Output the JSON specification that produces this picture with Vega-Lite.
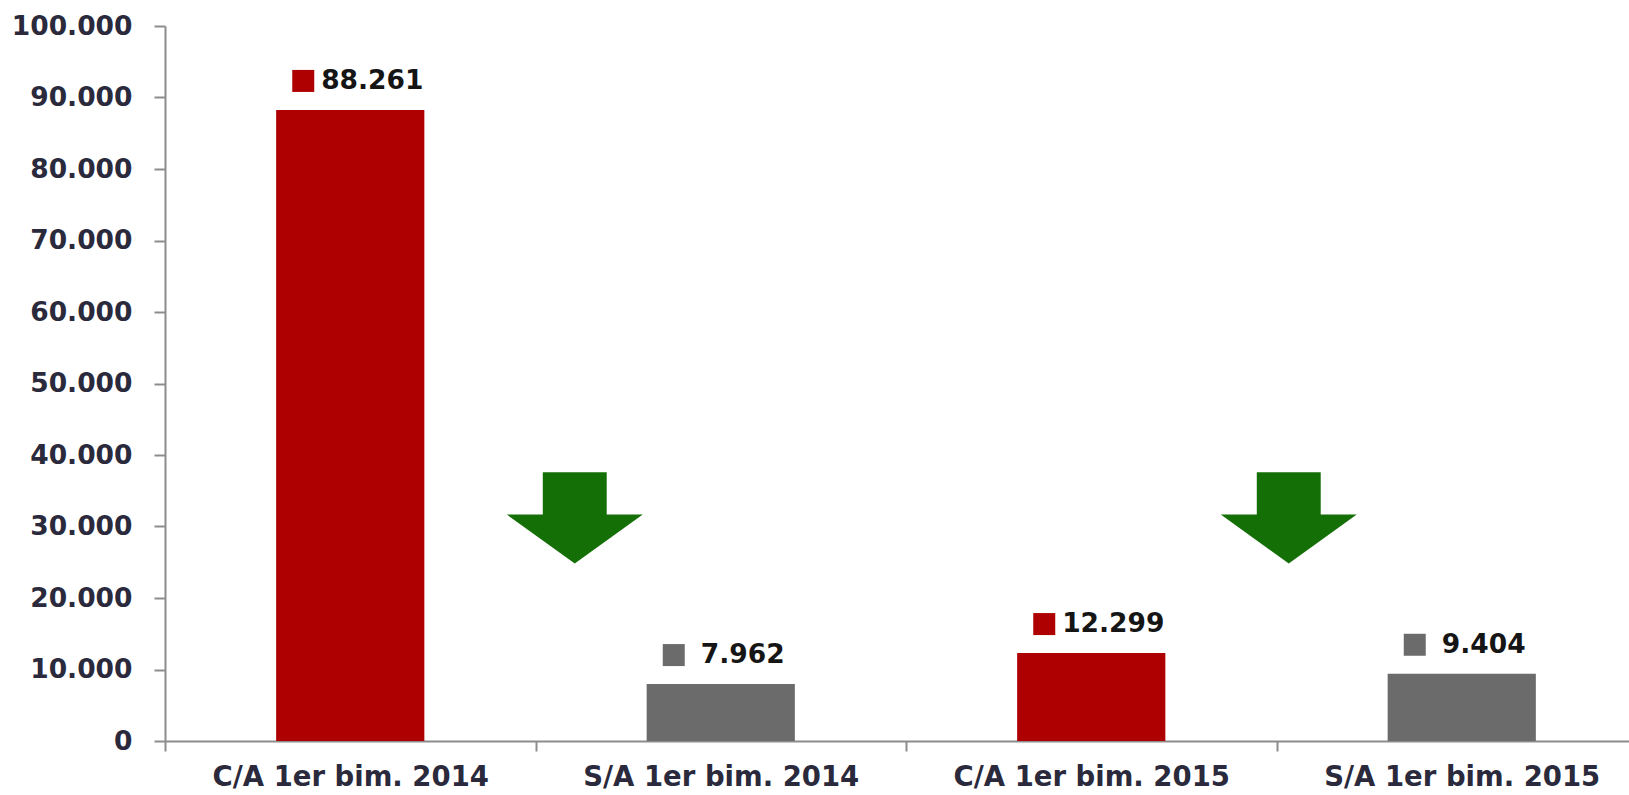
{
  "$schema": "https://vega.github.io/schema/vega-lite/v6.json",
  "width": 1464,
  "height": 715,
  "autosize": {"type": "none"},
  "padding": {"left": 165, "top": 26, "right": 0, "bottom": 54},
  "background": "white",
  "config": {
    "view": {"stroke": null},
    "locale": {"number": {"decimal": ",", "thousands": ".", "grouping": [3], "currency": ["", " €"]}}
  },
  "data": {
    "values": [
      {"cat": "C/A 1er bim. 2014", "tipo": "C/A", "valor": 88261},
      {"cat": "S/A 1er bim. 2014", "tipo": "S/A", "valor": 7962},
      {"cat": "C/A 1er bim. 2015", "tipo": "C/A", "valor": 12299},
      {"cat": "S/A 1er bim. 2015", "tipo": "S/A", "valor": 9404}
    ]
  },
  "encoding": {
    "x": {
      "field": "cat",
      "type": "nominal",
      "sort": null,
      "scale": {"range": [0, 1482], "paddingInner": 0, "paddingOuter": 0},
      "axis": {
        "title": null,
        "labelAngle": 0,
        "labelLimit": 0,
        "tickBand": "extent",
        "domainColor": "#8c8c8c",
        "domainWidth": 2,
        "tickColor": "#8c8c8c",
        "tickWidth": 2,
        "tickSize": 10,
        "labelFont": "DejaVu Sans",
        "labelFontWeight": "bold",
        "labelFontSize": 27.5,
        "labelColor": "#2a2a3c",
        "labelBaseline": "middle",
        "labelPadding": 26
      }
    },
    "y": {
      "field": "valor",
      "type": "quantitative",
      "scale": {"domain": [0, 100000], "nice": false},
      "axis": {
        "title": null,
        "grid": false,
        "values": [0, 10000, 20000, 30000, 40000, 50000, 60000, 70000, 80000, 90000, 100000],
        "format": ",d",
        "domainColor": "#8c8c8c",
        "domainWidth": 2,
        "tickColor": "#8c8c8c",
        "tickWidth": 2,
        "tickSize": 11,
        "labelFont": "DejaVu Sans",
        "labelFontWeight": "bold",
        "labelFontSize": 26.5,
        "labelColor": "#2a2a3c",
        "labelPadding": 22
      }
    }
  },
  "layer": [
    {
      "mark": {"type": "bar", "width": {"band": 0.4}},
      "encoding": {
        "color": {"field": "tipo", "type": "nominal", "scale": {"domain": ["C/A", "S/A"], "range": ["#ae0000", "#6b6b6b"]}, "legend": null}
      }
    },
    {
      "mark": {"type": "point", "shape": "square", "filled": true, "opacity": 1, "size": 484, "xOffset": -47, "yOffset": -29},
      "encoding": {
        "color": {"field": "tipo", "type": "nominal", "scale": {"domain": ["C/A", "S/A"], "range": ["#ae0000", "#6b6b6b"]}, "legend": null}
      }
    },
    {
      "mark": {"type": "text", "dx": 22, "dy": -29, "font": "DejaVu Sans", "fontWeight": "bold", "fontSize": 26.5, "color": "#151515", "baseline": "middle", "align": "center"},
      "encoding": {
        "text": {"field": "valor", "type": "quantitative", "format": ",d"}
      }
    },
    {
      "data": {"values": [{"cat": "S/A 1er bim. 2014", "valor": 31200}]},
      "mark": {"type": "point", "filled": true, "opacity": 1, "color": "#146f07", "size": 18496, "xOffset": -146,
        "shape": "M-0.47,-0.67 L0.47,-0.67 L0.47,-0.05 L1,-0.05 L0,0.67 L-1,-0.05 L-0.47,-0.05 Z"},
      "encoding": {}
    },
    {
      "data": {"values": [{"cat": "S/A 1er bim. 2015", "valor": 31200}]},
      "mark": {"type": "point", "filled": true, "opacity": 1, "color": "#146f07", "size": 18496, "xOffset": -173,
        "shape": "M-0.47,-0.67 L0.47,-0.67 L0.47,-0.05 L1,-0.05 L0,0.67 L-1,-0.05 L-0.47,-0.05 Z"},
      "encoding": {}
    }
  ]
}
